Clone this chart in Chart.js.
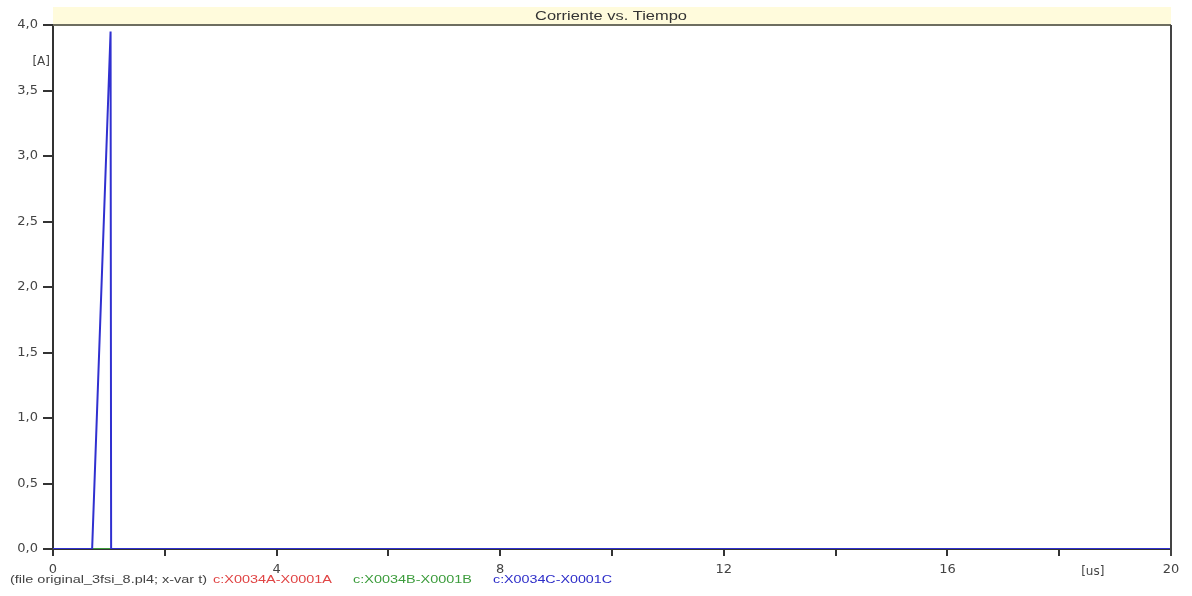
<!DOCTYPE html>
<html>
<head>
<meta charset="utf-8">
<script src="https://cdn.jsdelivr.net/npm/chart.js@4/dist/chart.umd.min.js"></script>
<style>
  html, body { margin: 0; padding: 0; background: #fff; }
  #wrap { width: 1192px; height: 596px; position: relative; }
</style>
</head>
<body>
<div id="wrap"><canvas id="myChart"></canvas></div>
<script>
// datos (tiempo en us, corriente en A)
const timeA = [0, 20]
const currA = [0, 0]
const timeB = [0, 20]
const currB = [0, 0]
const timeC = [0, 0.70, 1.03, 1.04, 20]
const currC = [0, 0, 3.95, 0, 0]

const chartTitle = "Corriente vs. Tiempo"
const fileLabel = "(file original_3fsi_8.pl4; x-var t)"
const seriesNames = ["c:X0034A-X0001A", "c:X0034B-X0001B", "c:X0034C-X0001C"]
const seriesColors = ["#e04444", "#3c9c3c", "#2c2cc8"]
const xUnit = "[us]"
const yUnit = "[A]"

const toPoints = (xs, ys) => xs.map((x, i) => ({ x: x, y: ys[i] }))

// texto estirado horizontalmente hasta un ancho dado (la imagen original esta ensanchada)
const stretchText = (ctx, text, x, y, width) => {
  const w = ctx.measureText(text).width
  ctx.save()
  ctx.translate(x, y)
  ctx.scale(width / w, 1)
  ctx.fillText(text, 0, 0)
  ctx.restore()
}

// plugin para la banda del titulo, bordes y leyenda inferior
const decor = {
  id: "decor",
  afterDraw(chart) {
    const { ctx, chartArea: a, scales } = chart
    ctx.save()
    // banda amarilla del titulo
    ctx.fillStyle = "#fffbdc"
    ctx.fillRect(a.left, a.top - 18, a.right - a.left, 18)
    ctx.fillStyle = "#333"
    ctx.font = "12px 'Liberation Sans', Arial, sans-serif"
    ctx.textAlign = "left"
    ctx.textBaseline = "middle"
    stretchText(ctx, chartTitle, 535, a.top - 8, 152)
    // borde superior y derecho
    ctx.strokeStyle = "#6e6e60"
    ctx.lineWidth = 2
    ctx.beginPath()
    ctx.moveTo(a.left, a.top)
    ctx.lineTo(a.right, a.top)
    ctx.stroke()
    ctx.strokeStyle = "#444"
    ctx.beginPath()
    ctx.moveTo(a.right, a.top)
    ctx.lineTo(a.right, a.bottom + 7)
    ctx.stroke()
    // unidades
    ctx.fillStyle = "#444"
    ctx.font = "12px 'DejaVu Sans', sans-serif"
    ctx.textAlign = "right"
    ctx.fillText(yUnit, a.left - 3, scales.y.getPixelForValue(3.72))
    ctx.textAlign = "center"
    ctx.fillText(xUnit, scales.x.getPixelForValue(18.6), a.bottom + 23)
    // leyenda
    ctx.font = "11px 'Liberation Sans', Arial, sans-serif"
    ctx.textAlign = "left"
    const y = a.bottom + 31
    ctx.fillStyle = "#444"
    stretchText(ctx, fileLabel, 10, y, 197)
    const starts = [213, 353, 493]
    seriesNames.forEach((name, i) => {
      ctx.fillStyle = seriesColors[i]
      stretchText(ctx, name, starts[i], y, 119)
    })
    ctx.restore()
  }
}

const ctx = document.getElementById("myChart").getContext("2d")
const myChart = new Chart(ctx, {
  type: "line",
  data: {
    datasets: [
      { label: seriesNames[0], data: toPoints(timeA, currA), borderColor: seriesColors[0], order: 2 },
      { label: seriesNames[1], data: toPoints(timeB, currB), borderColor: seriesColors[1], order: 1 },
      { label: seriesNames[2], data: toPoints(timeC, currC), borderColor: "#3030d0", order: 0 }
    ]
  },
  options: {
    responsive: true,
    maintainAspectRatio: false,
    animation: false,
    layout: { padding: { top: 25, right: 21, left: 0, bottom: 0 } },
    elements: {
      point: { radius: 0 },
      line: { borderWidth: 2, tension: 0 }
    },
    plugins: {
      legend: { display: false },
      tooltip: { enabled: false }
    },
    scales: {
      x: {
        type: "linear",
        min: 0,
        max: 20,
        afterFit: s => { s.height = 47 },
        ticks: {
          stepSize: 2,
          maxRotation: 0,
          autoSkip: false,
          padding: 6,
          color: "#444",
          font: { family: "'DejaVu Sans', sans-serif", size: 13 },
          callback: v => (v % 4 === 0 ? String(v) : "")
        },
        grid: { drawOnChartArea: false, tickLength: 7, color: "#333", lineWidth: 2 },
        border: { color: "#333", width: 2 }
      },
      y: {
        min: 0,
        max: 4,
        afterFit: s => { s.width = 53 },
        ticks: {
          stepSize: 0.5,
          padding: 5,
          color: "#444",
          font: { family: "'DejaVu Sans', sans-serif", size: 13 },
          callback: v => v.toFixed(1).replace(".", ",")
        },
        grid: { drawOnChartArea: false, tickLength: 10, color: "#333", lineWidth: 2 },
        border: { color: "#333", width: 2 }
      }
    }
  },
  plugins: [decor]
})
</script>
</body>
</html>
